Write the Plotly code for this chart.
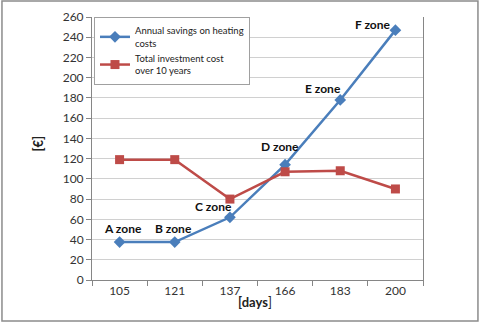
import plotly.graph_objects as go

days = ["105", "121", "137", "166", "183", "200"]
savings = [37.5, 37.5, 62, 114, 178, 247]
investment = [119, 119, 80, 107, 108, 90]
zone_labels = ["A zone", "B zone", "C zone", "D zone", "E zone", "F zone"]
y_ticks = list(range(0, 261, 20))

blue = "#4A7EBB"
red = "#BE4B48"
font_family = "Lato, 'Open Sans', sans-serif"

fig = go.Figure()
fig.add_trace(go.Scatter(
    x=days, y=savings, mode="lines+markers",
    name="Annual savings on heating<br>costs",
    line=dict(color=blue, width=2.5),
    marker=dict(symbol="diamond", size=9, color=blue),
))
fig.add_trace(go.Scatter(
    x=days, y=investment, mode="lines+markers",
    name="Total investment cost<br>over 10 years",
    line=dict(color=red, width=2.5),
    marker=dict(symbol="square", size=9, color=red),
))

# zone labels (positioned by category index)
offsets = [(3, 14), (-1, 14), (-16, 11), (-5, 18), (-17, 11), (-23, 6)]
for i, (v, lab, (dx, dy)) in enumerate(zip(savings, zone_labels, offsets)):
    fig.add_annotation(x=i, y=v, text="<b>" + lab + "</b>", showarrow=False,
                       xshift=dx, yshift=dy, font=dict(size=12, color="#111111", family=font_family))

# axis titles
fig.add_annotation(xref="paper", yref="paper", x=0.492, y=-0.122, text="<b>[days</b>]",
                   showarrow=False, font=dict(size=13, color="#222222", family=font_family))
fig.add_annotation(xref="paper", yref="paper", x=-0.138, y=0.52, xanchor="center", yanchor="middle",
                   xshift=-8, text="<b>[€]</b>", textangle=-90,
                   showarrow=False, font=dict(size=13, color="#222222", family=font_family))

# outer chart border
fig.add_shape(type="rect", xref="paper", yref="paper",
              x0=-0.272, x1=1.166, y0=-0.156, y1=1.061,
              line=dict(color="#8C8C8C", width=1.5), fillcolor="rgba(0,0,0,0)", layer="below")

fig.update_layout(
    width=480, height=323,
    margin=dict(l=92, r=57, t=17, b=43, autoexpand=False),
    paper_bgcolor="white", plot_bgcolor="white",
    font=dict(family=font_family, size=12, color="#333333"),
    showlegend=True,
    legend=dict(x=0.006, y=1.0, xanchor="left", yanchor="top",
                bordercolor="#A0A0A0", borderwidth=1, bgcolor="white",
                font=dict(size=9.5, color="#222222", family=font_family),
                tracegroupgap=2, itemwidth=30),
    xaxis=dict(type="category", range=[-0.5, 5.5], autorange=False, automargin=False,
               showgrid=False, showline=True, linecolor="#868686",
               linewidth=1, ticks="outside", tickson="boundaries", ticklen=5,
               tickcolor="#868686", mirror=False, tickangle=0,
               tickfont=dict(size=12, color="#333333")),
    yaxis=dict(range=[0, 260], autorange=False, automargin=False, tickvals=y_ticks,
               showgrid=True, gridcolor="#D0D0D0",
               showline=True, linecolor="#868686", linewidth=1, mirror=True,
               ticks="outside", ticklen=5, tickcolor="#868686", zeroline=False,
               tickfont=dict(size=12, color="#333333")),
)

fig.write_html("out.html", config={"displayModeBar": False},
               post_script="document.body.style.margin='0';")
